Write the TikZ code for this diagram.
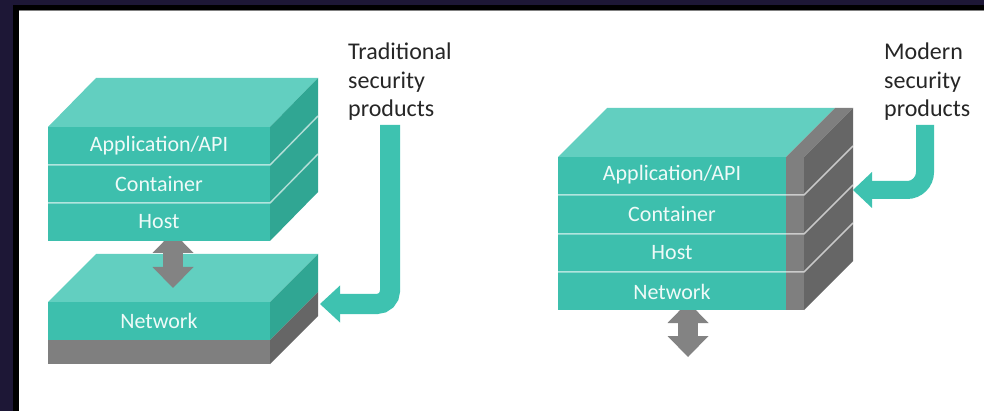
\documentclass[tikz,border=0pt]{standalone}
\usepackage{fontspec}
\setmainfont{Carlito}
\usepackage{tikz}
\usetikzlibrary{arrows.meta}

\definecolor{framenavy}{HTML}{1D1736}
\definecolor{layerfront}{HTML}{3DBFAD}
\definecolor{layertop}{HTML}{62CFC0}
\definecolor{layerside}{HTML}{30A693}
\definecolor{slabfront}{HTML}{7F7F7F}
\definecolor{slabside}{HTML}{666666}
\definecolor{linkgray}{HTML}{838383}
\definecolor{secgreen}{HTML}{3EC2B0}
\definecolor{notetext}{HTML}{262626}

\tikzset{
  frontfill/.style={fill=layerfront},
  topfill/.style={fill=layertop},
  sidefill/.style={fill=layerside},
  slabfill/.style={fill=slabfront},
  slabsidefill/.style={fill=slabside},
  seam/.style={draw=white, line width=1.5pt, opacity=0.6},
  layerlabel/.style={text=white!92!layerfront, font=\fontsize{22}{26}\selectfont, inner sep=0pt},
  note/.style={text=notetext, font=\fontsize{24}{28.5}\selectfont, align=left, anchor=north west, inner sep=0pt},
  link/.style={draw=linkgray, line width=20pt,
    {Triangle[length=21pt,width=41pt,line width=0pt]}-{Triangle[length=21pt,width=41pt,line width=0pt]}},
  secarrow/.style={draw=secgreen, line width=20pt, rounded corners=13pt,
    -{Triangle[length=20pt,width=37pt,line width=0pt]}}
}

\begin{document}
\begin{tikzpicture}[x=1pt,y=-1pt]
  \useasboundingbox (0,0) rectangle (984,411);

  \fill[framenavy] (0,0) rectangle (984,411);
  \fill[black] (13,5) rectangle (990,411);
  \fill[white] (19,10) rectangle (990,411);
  \draw[gray, line width=0.8pt] (19,10.4) -- (990,10.4);

  % traditional: network slab, link, upper stack
  \fill[topfill] (48,302) -- (270,302) -- (318,254) -- (96,254) -- cycle;
  \fill[frontfill] (48,302) rectangle (270,340);
  \fill[sidefill] (270,302) -- (318,254) -- (318,292) -- (270,340) -- cycle;
  \fill[slabfill] (48,340) rectangle (270,364);
  \fill[slabsidefill] (270,340) -- (318,292) -- (318,316) -- (270,364) -- cycle;
  \node[layerlabel] (netA) at (159,321) {Network};

  \coordinate (linkAtop) at (173,232);
  \coordinate (linkAbot) at (173,288);
  \draw[link] (linkAtop) -- (linkAbot);

  \fill[topfill] (48,127) -- (270,127) -- (318,78) -- (96,78) -- cycle;
  \foreach \t/\b in {127/165,165/203,203/241} {
    \fill[frontfill] (48,\t) rectangle (270,\b);
    \fill[sidefill] (270,\t) -- (318,\t-49) -- (318,\b-49) -- (270,\b) -- cycle;
  }
  \foreach \y in {165,203}
    \draw[seam] (48,\y) -- (270,\y) -- ++(48,-49);

  \node[layerlabel] (appA) at (159,146) {Application/API};
  \node[layerlabel] (contA) at (159,184) {Container};
  \node[layerlabel] (hostA) at (159,222) {Host};

  \node[note] (trad) at (348,43) {Traditional\\security\\products};
  \coordinate (tradout) at (390,125);
  \coordinate (tradin) at (320,304);
  \draw[secarrow] (tradout) |- (tradin);

  % modern: link, stack with gray wall
  \coordinate (linkBtop) at (688,302);
  \coordinate (linkBbot) at (688,357);
  \draw[link] (linkBtop) -- (linkBbot);

  \fill[topfill] (558,157) -- (786,157) -- (835,108) -- (607,108) -- cycle;
  \fill[slabfill] (786,157) -- (804,157) -- (853,108) -- (835,108) -- cycle;
  \foreach \t/\b in {157/195,195/234,234/272,272/310} {
    \fill[frontfill] (558,\t) rectangle (786,\b);
    \fill[slabfill] (786,\t) rectangle (804,\b);
    \fill[slabsidefill] (804,\t) -- (853,\t-49) -- (853,\b-49) -- (804,\b) -- cycle;
  }
  \foreach \y in {195,234,272}
    \draw[seam] (558,\y) -- (804,\y) -- ++(49,-49);

  \node[layerlabel] (appB) at (672,175) {Application/API};
  \node[layerlabel] (contB) at (672,214) {Container};
  \node[layerlabel] (hostB) at (672,253) {Host};
  \node[layerlabel] (netB) at (672,292) {Network};

  \node[note] (modern) at (884,43) {Modern\\security\\products};
  \coordinate (modout) at (925,125);
  \coordinate (modin) at (853,190);
  \draw[secarrow, line width=18pt, rounded corners=18pt,
    -{Triangle[length=19pt,width=36pt,line width=0pt]}] (modout) |- (modin);

\end{tikzpicture}
\end{document}
